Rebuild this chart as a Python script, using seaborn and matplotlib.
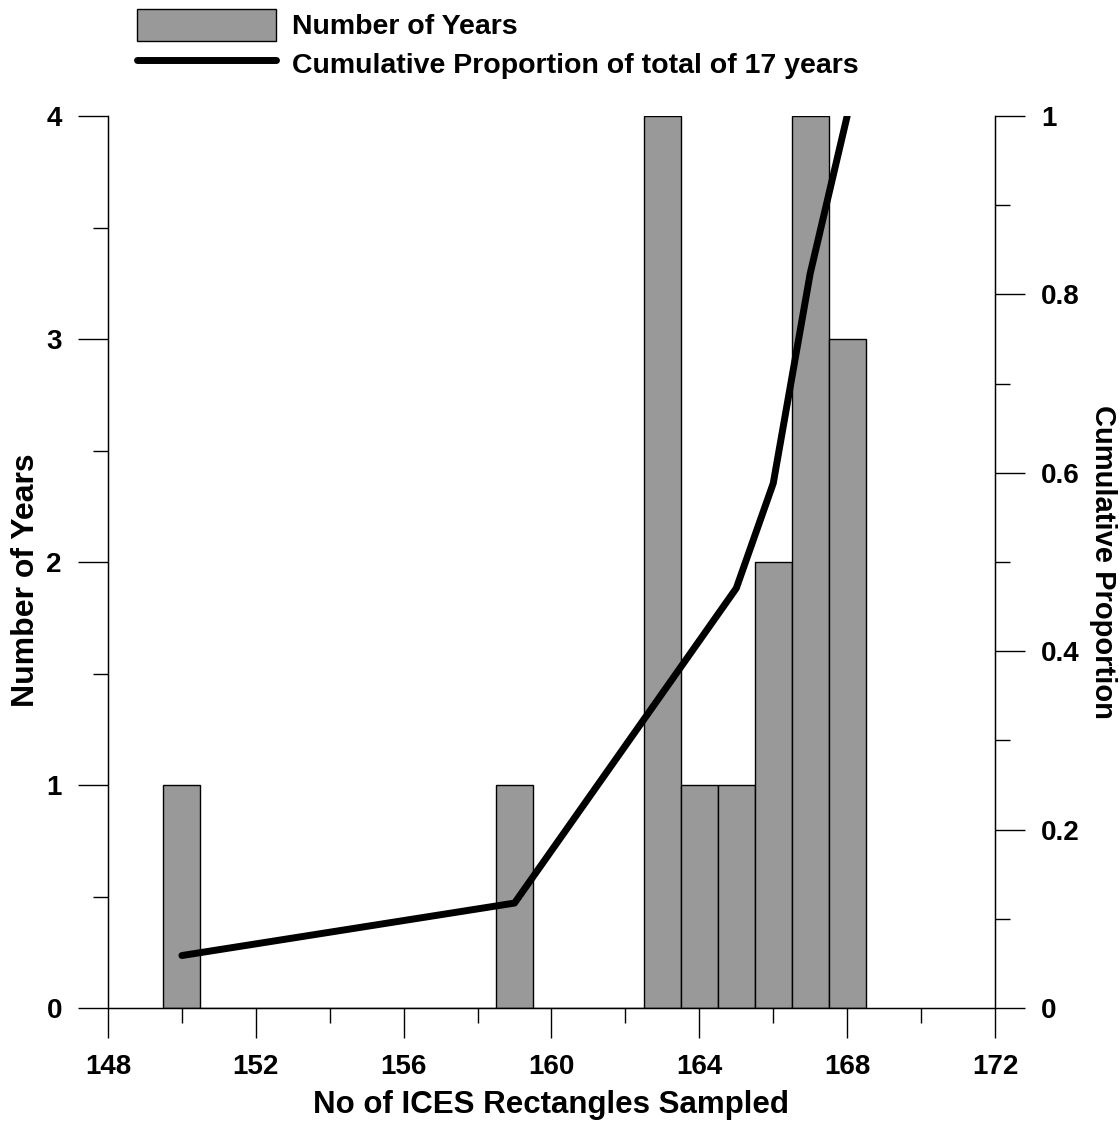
import numpy as np
import matplotlib
matplotlib.use("Agg")
import matplotlib.pyplot as plt
import matplotlib.patches as mpatches
import matplotlib.lines as mlines
from matplotlib.ticker import MultipleLocator
import seaborn as sns

# data
rectangles = [150, 159, 163, 164, 165, 166, 167, 168]
n_years = [1, 1, 4, 1, 1, 2, 4, 3]
total_years = 17

sns.set_style("ticks")
plt.rcParams['font.family'] = ['Liberation Sans', 'DejaVu Sans']
plt.rcParams['font.weight'] = 'bold'
for key in ['text.color', 'axes.labelcolor', 'xtick.color', 'ytick.color',
            'axes.edgecolor']:
    plt.rcParams[key] = 'black'

fig = plt.figure(figsize=(11.2, 11.22), dpi=100)
ax = fig.add_axes([0.0964, 0.1016, 0.7920, 0.7950])

sns.histplot(x=rectangles, weights=n_years, discrete=True, ax=ax,
             color='#999999', edgecolor='black', linewidth=1, alpha=1)

ax.set_xlim(148, 172)
ax.set_ylim(0, 4)
ax.xaxis.set_major_locator(MultipleLocator(4))
ax.xaxis.set_minor_locator(MultipleLocator(2))
ax.yaxis.set_major_locator(MultipleLocator(1))
ax.yaxis.set_minor_locator(MultipleLocator(0.5))
ax.tick_params(which='major', length=21.6, width=1, labelsize=20, pad=11.5)
ax.tick_params(which='minor', length=10.8, width=1)
ax.set_xlabel('No of ICES Rectangles Sampled', fontsize=22.5, fontweight='bold')
ax.set_ylabel('Number of Years', fontsize=23, fontweight='bold')
ax.xaxis.set_label_coords(0.5, -0.1087)
ax.xaxis.label.set_va('center')
ax.yaxis.set_label_coords(-0.0925, 0.48)
ax.yaxis.label.set_va('center')
ax.spines['top'].set_visible(False)
for s in ['left', 'right', 'bottom']:
    ax.spines[s].set_linewidth(1)

# cumulative proportion on the right axis
cum = np.cumsum(n_years) / total_years
ax2 = ax.twinx()
sns.lineplot(x=rectangles, y=cum, ax=ax2, color='black', linewidth=5,
             solid_capstyle='round', solid_joinstyle='round')
ax2.set_ylim(0, 1)
ax2.yaxis.set_minor_locator(MultipleLocator(0.1))
ax2.set_yticks([0, 0.2, 0.4, 0.6, 0.8, 1.0])
ax2.set_yticklabels(['0', '0.2', '0.4', '0.6', '0.8', '1'])
ax2.tick_params(which='major', length=21.6, width=1, labelsize=20, pad=11.5)
ax2.tick_params(which='minor', length=10.8, width=1)
ax2.set_ylabel('Cumulative Proportion', fontsize=21, fontweight='bold', rotation=270)
ax2.yaxis.set_label_coords(1.1218, 0.5)
ax2.yaxis.label.set_va('center')
ax2.yaxis.label.set_ha('center')
ax2.spines['top'].set_visible(False)

for lab in ax.get_xticklabels() + ax.get_yticklabels() + ax2.get_yticklabels():
    lab.set_fontweight('bold')

bar_handle = mpatches.Patch(facecolor='#999999', edgecolor='black', linewidth=1,
                            label='Number of Years')
line_handle = mlines.Line2D([], [], color='black', linewidth=5, solid_capstyle='round',
                            label='Cumulative Proportion of total of 17 years')
fig.legend(handles=[bar_handle, line_handle], loc='upper left',
           bbox_to_anchor=(0.1147, 1.0), frameon=False,
           prop={'size': 20.5, 'weight': 'bold'},
           handlelength=4.88, handleheight=1.4, handletextpad=0.56,
           labelspacing=0.21, borderpad=0.15, borderaxespad=0.15)

fig.savefig('out.png', dpi=100)
